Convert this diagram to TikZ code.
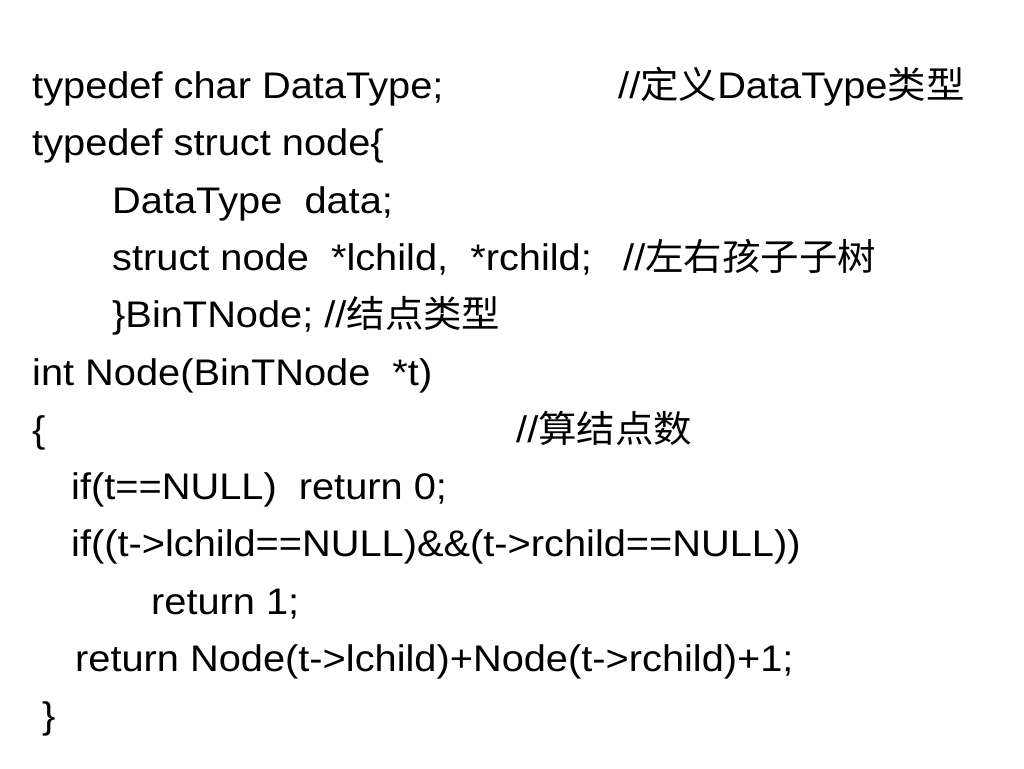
\documentclass[tikz,border=0pt]{standalone}
\usepackage{fontspec}
\setmainfont[FakeStretch=1.075]{Liberation Sans}
\newfontfamily\cjk[FakeStretch=1.04]{Noto Sans CJK SC}
\tikzset{code/.style={anchor=base west,inner sep=0pt,font=\fontsize{37}{44}\selectfont}}
\begin{document}
\begin{tikzpicture}[x=1pt,y=-1pt]
\useasboundingbox[fill=white](0,0)rectangle(1024,768);
\node[code](l1) at (32,98.5){typedef char DataType;};
\node[code](c1) at (618,98.5){//{\cjk 定义}DataType{\cjk 类型}};
\node[code](l2) at (32,155.8){typedef struct node\{};
\node[code](l3) at (112,213.1){DataType~ data;};
\node[code](l4) at (112,270.4){struct node~ *lchild,~ *rchild;};
\node[code](c4) at (623,270.4){//{\cjk 左右孩子子树}};
\node[code](l5) at (112,327.7){\}BinTNode; //{\cjk 结点类型}};
\node[code](l6) at (32,385){int Node(BinTNode~ *t)};
\node[code](l7) at (32,442.3){\{};
\node[code](c7) at (516,442.3){//{\cjk 算结点数}};
\node[code](l8) at (71,499.6){if(t==NULL)~ return 0;};
\node[code](l9) at (71,556.9){if((t->lchild==NULL)\&\&(t->rchild==NULL))};
\node[code](l10) at (151,614.2){return 1;};
\node[code](l11) at (75,671.5){return Node(t->lchild)+Node(t->rchild)+1;};
\node[code](l12) at (42,728.8){\}};
\end{tikzpicture}
\end{document}
